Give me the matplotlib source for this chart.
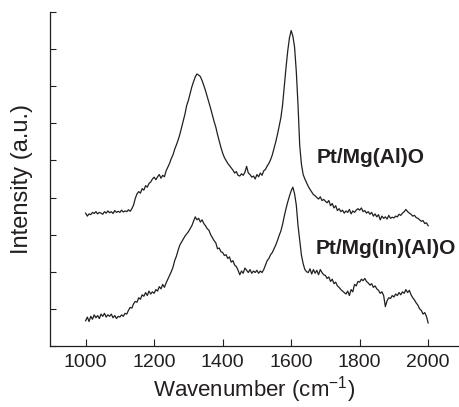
import numpy as np
import matplotlib
matplotlib.use("Agg")
import matplotlib.pyplot as plt

plt.rcParams['font.family'] = ['Liberation Sans', 'DejaVu Sans']
plt.rcParams['mathtext.fontset'] = 'custom'
plt.rcParams['mathtext.rm'] = 'Liberation Sans'

# Raman shift grid (cm-1), 5 cm-1 steps
wavenumber = np.arange(1000, 2001, 5)

# Pt/Mg(Al)O spectrum (offset upward)
pt_mg_al_o = [
    3.58, 3.50, 3.56, 3.54, 3.60, 3.57, 3.62, 3.56, 3.60, 3.58,
    3.55, 3.62, 3.58, 3.64, 3.59, 3.62, 3.57, 3.65, 3.60, 3.63,
    3.60, 3.66, 3.61, 3.64, 3.62, 3.67, 3.63, 3.70, 3.80, 3.98,
    4.10, 4.16, 4.12, 4.24, 4.20, 4.32, 4.28, 4.38, 4.42, 4.50,
    4.55, 4.48, 4.56, 4.62, 4.52, 4.60, 4.56, 4.72, 4.82, 4.92,
    5.05, 5.15, 5.30, 5.42, 5.55, 5.70, 5.88, 6.05, 6.25, 6.48,
    6.62, 6.80, 6.98, 7.12, 7.25, 7.33, 7.30, 7.26, 7.15, 7.02,
    6.88, 6.72, 6.55, 6.40, 6.22, 6.05, 5.90, 5.70, 5.52, 5.35,
    5.20, 5.08, 5.00, 4.92, 4.86, 4.80, 4.74, 4.66, 4.70, 4.60,
    4.58, 4.64, 4.60, 4.68, 4.84, 4.66, 4.62, 4.55, 4.58, 4.50,
    4.62, 4.56, 4.66, 4.60, 4.72, 4.76, 4.85, 4.92, 5.02, 5.15,
    5.32, 5.50, 5.70, 5.92, 6.15, 6.50, 7.00, 7.50, 7.95, 8.30,
    8.50, 8.35, 8.05, 7.40, 6.50, 5.40, 4.90, 4.62, 4.50, 4.40,
    4.30, 4.22, 4.15, 4.08, 4.05, 4.00, 3.96, 4.02, 3.92, 3.95,
    3.90, 3.86, 3.92, 3.78, 3.84, 3.72, 3.78, 3.65, 3.70, 3.62,
    3.66, 3.58, 3.64, 3.60, 3.68, 3.56, 3.64, 3.60, 3.66, 3.70,
    3.66, 3.72, 3.62, 3.65, 3.58, 3.62, 3.55, 3.60, 3.50, 3.56,
    3.48, 3.54, 3.40, 3.50, 3.44, 3.48, 3.42, 3.52, 3.44, 3.47,
    3.45, 3.50, 3.48, 3.55, 3.52, 3.58, 3.62, 3.68, 3.62, 3.58,
    3.55, 3.50, 3.52, 3.46, 3.44, 3.40, 3.36, 3.38, 3.30, 3.32,
    3.24,
]

# Pt/Mg(In)(Al)O spectrum
pt_mg_in_al_o = [
    0.68, 0.78, 0.66, 0.80, 0.72, 0.84, 0.76, 0.82, 0.74, 0.86,
    0.80, 0.88, 0.78, 0.84, 0.80, 0.86, 0.76, 0.82, 0.74, 0.80,
    0.78, 0.84, 0.80, 0.88, 0.86, 0.96, 1.04, 1.02, 1.14, 1.20,
    1.18, 1.30, 1.26, 1.38, 1.34, 1.44, 1.36, 1.48, 1.40, 1.46,
    1.42, 1.52, 1.48, 1.60, 1.54, 1.66, 1.58, 1.70, 1.80, 1.90,
    2.00, 2.12, 2.30, 2.42, 2.58, 2.72, 2.80, 2.88, 2.96, 3.02,
    3.08, 3.16, 3.24, 3.36, 3.48, 3.40, 3.44, 3.34, 3.40, 3.30,
    3.24, 3.16, 3.12, 3.00, 2.92, 2.84, 2.78, 2.62, 2.64, 2.54,
    2.52, 2.44, 2.46, 2.36, 2.40, 2.26, 2.30, 2.18, 2.14, 2.04,
    1.92, 2.02, 1.96, 2.10, 2.04, 1.98, 2.06, 1.96, 2.02, 1.98,
    2.04, 1.96, 2.02, 1.98, 2.06, 2.18, 2.30, 2.36, 2.46, 2.52,
    2.62, 2.72, 2.84, 2.98, 3.10, 3.28, 3.50, 3.70, 3.88, 4.04,
    4.18, 4.28, 4.10, 3.80, 3.25, 2.85, 2.45, 2.22, 2.06, 2.00,
    1.98, 2.08, 1.94, 2.06, 1.96, 2.04, 1.92, 2.06, 1.98, 1.92,
    1.90, 1.82, 1.86, 1.74, 1.80, 1.68, 1.72, 1.62, 1.58, 1.52,
    1.48, 1.44, 1.40, 1.48, 1.36, 1.52, 1.46, 1.66, 1.62, 1.74,
    1.72, 1.80, 1.76, 1.82, 1.74, 1.70, 1.64, 1.68, 1.58, 1.62,
    1.54, 1.50, 1.42, 1.46, 1.36, 1.06, 1.22, 1.30, 1.28, 1.36,
    1.32, 1.40, 1.36, 1.44, 1.38, 1.46, 1.42, 1.52, 1.44, 1.50,
    1.38, 1.30, 1.24, 1.16, 1.10, 1.00, 0.96, 0.86, 0.90, 0.80,
    0.62,
]

labels = ["Pt/Mg(Al)O", "Pt/Mg(In)(Al)O"]
label_pos = [(1673, 5.09), (1670, 2.64)]
xticks = [1000, 1200, 1400, 1600, 1800, 2000]

ink = "#231f20"

fig = plt.figure(figsize=(4.59, 4.07), dpi=100)
ax = fig.add_axes([50 / 459, 61 / 407, 409 / 459, 334 / 407])

ax.plot(wavenumber, pt_mg_al_o, color=ink, lw=0.9)
ax.plot(wavenumber, pt_mg_in_al_o, color=ink, lw=0.9)

for txt, (x, y) in zip(labels, label_pos):
    ax.text(x, y, txt, fontsize=15, fontweight='bold', color=ink,
            ha='left', va='center')

ax.set_xlim(896, 2090)
ax.set_ylim(0, 9)
ax.set_xticks(xticks)
ax.set_yticks(range(0, 10))
ax.set_yticklabels([])
ax.tick_params(axis='x', direction='in', length=5, width=0.8, colors=ink,
               labelsize=14, pad=6)
ax.tick_params(axis='y', direction='in', length=4, width=0.8, colors=ink)
for s in ['top', 'right']:
    ax.spines[s].set_visible(False)
for s in ['left', 'bottom']:
    ax.spines[s].set_color(ink)
    ax.spines[s].set_linewidth(0.9)

ax.set_xlabel(r"Wavenumber (cm$^{\mathregular{-1}}$)", fontsize=16, color=ink,
              labelpad=2)
ax.set_ylabel("Intensity (a.u.)", fontsize=17, color=ink, labelpad=9)

fig.savefig("out.png", dpi=100)
